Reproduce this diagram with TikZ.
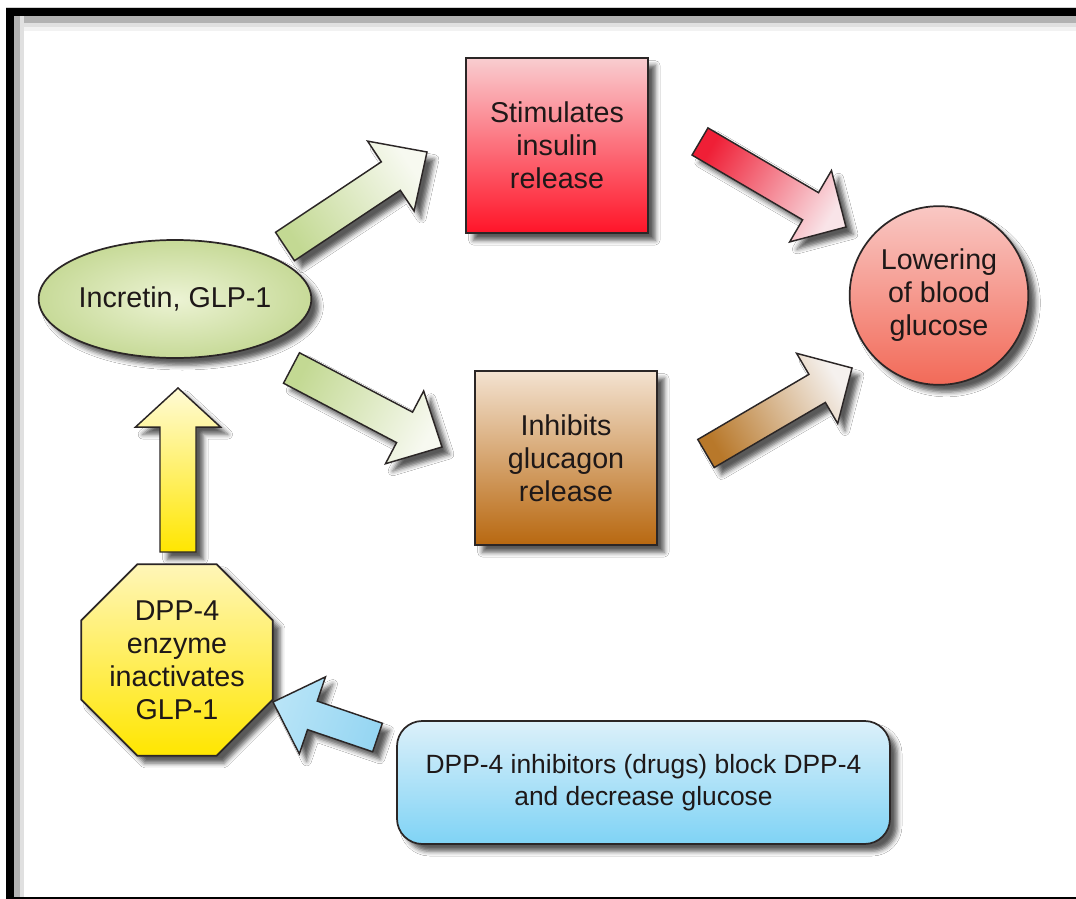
\documentclass[tikz,border=0pt]{standalone}
\usepackage{fontspec}
\setmainfont{Liberation Sans}
\usetikzlibrary{calc,shapes.geometric,shadows.blur}

\definecolor{edge}{HTML}{2B2626}
\definecolor{txt}{HTML}{1E1818}

\newcommand{\barrow}[6]{%
  \coordinate (hb) at ($(#3)!#6!(#2)$);
  \path[#1] ($(#2)!#4!90:(#3)$) -- ($(hb)!#4!90:(#3)$) -- ($(hb)!#5!90:(#3)$) -- (#3)
     -- ($(hb)!#5!-90:(#3)$) -- ($(hb)!#4!-90:(#3)$) -- ($(#2)!#4!-90:(#3)$) -- cycle;
}

\tikzset{
  shd/.style={blur shadow={shadow xshift=5.5pt,shadow yshift=-5.5pt,shadow blur radius=3.5pt,shadow opacity=65}},
  shapebox/.style={shd,draw=edge,line width=1.3pt,inner sep=0pt,align=center,text=txt,
    font=\fontsize{21.5}{24.8}\selectfont},
  arrowbody/.style={shd,draw=edge,line width=1.1pt,line join=miter},
}

\begin{document}
\begin{tikzpicture}[x=0.75pt,y=-0.75pt]
\useasboundingbox (0,0) rectangle (1076,899);
% frame
\fill[white] (0,0) rectangle (1076,899);
\fill[black!18] (6,7) rectangle (1076,8);
\fill[black!5] (24,27) rectangle (1076,31);
\fill[black!12] (14,16) rectangle (1076,27);
\fill[black!30] (14,16) rectangle (1076,23);
\fill[black!12] (14,16) rectangle (24,899);
\fill[black!30] (14,16) rectangle (20,899);
\fill[black] (6,8) rectangle (1076,16);
\fill[black] (6,8) rectangle (14,899);
\fill[black] (6,896.5) rectangle (1076,899);

% nodes
\node[shapebox,ellipse,minimum width=177pt,minimum height=88.5pt,
  inner color={rgb,255:red,236;green,243;blue,212},outer color={rgb,255:red,199;green,218;blue,152}]
  (inc) at (175,299) {Incretin, GLP-1};
\node[shapebox,rectangle,minimum width=136.5pt,minimum height=131.25pt,
  top color={rgb,255:red,249;green,205;blue,208},bottom color={rgb,255:red,255;green,20;blue,40}]
  (ins) at (557,145.5) {Stimulates\\insulin\\release};
\node[shapebox,rectangle,minimum width=136.5pt,minimum height=130.5pt,
  top color={rgb,255:red,243;green,226;blue,208},bottom color={rgb,255:red,184;green,104;blue,16}]
  (glu) at (566,458) {Inhibits\\glucagon\\release};
\node[shapebox,circle,minimum size=134pt,
  top color={rgb,255:red,249;green,200;blue,196},bottom color={rgb,255:red,242;green,106;blue,88}]
  (low) at (939,295.5) {Lowering\\of blood\\glucose};
\node[shapebox,regular polygon,regular polygon sides=8,minimum size=136.5pt,
  top color={rgb,255:red,255;green,246;blue,184},bottom color={rgb,255:red,255;green,230;blue,0}]
  (dpp) at (177,660) {DPP-4\\enzyme\\inactivates\\GLP-1};
\node[shapebox,rectangle,rounded corners=19pt,minimum width=369.75pt,minimum height=92.25pt,
  font=\fontsize{19.8}{24}\selectfont,
  top color={rgb,255:red,220;green,240;blue,250},bottom color={rgb,255:red,127;green,211;blue,245}]
  (drug) at (643.5,782.5) {DPP-4 inhibitors (drugs) block DPP-4\\and decrease glucose};

% arrow end points
\coordinate (g1t) at (285,246.5);  \coordinate (g1h) at (427,152);
\coordinate (g2t) at (291.5,368);  \coordinate (g2h) at (442,447);
\coordinate (rt)  at (700,141.5);  \coordinate (rh)  at (846,227);
\coordinate (bt)  at (706,453.5);  \coordinate (bh)  at (852,368);
\coordinate (yt)  at (178,552);    \coordinate (yh)  at (178,388);
\coordinate (ct)  at (377.5,737.5);\coordinate (ch)  at (273,702);

\barrow{arrowbody,bottom color={rgb,255:red,195;green,217;blue,147},top color={rgb,255:red,247;green,249;blue,240},shading angle=-56.4}{g1t}{g1h}{12.8pt}{31.5pt}{32.6pt}
\barrow{arrowbody,bottom color={rgb,255:red,195;green,217;blue,147},top color={rgb,255:red,247;green,249;blue,240},shading angle=-117.7}{g2t}{g2h}{12.9pt}{30.8pt}{31.7pt}
\barrow{arrowbody,bottom color={rgb,255:red,239;green,31;blue,54},top color={rgb,255:red,249;green,228;blue,232},shading angle=-120.4}{rt}{rh}{11.8pt}{31pt}{30.8pt}
\barrow{arrowbody,bottom color={rgb,255:red,184;green,120;blue,42},top color={rgb,255:red,245;green,241;blue,238},shading angle=-59.6}{bt}{bh}{12.2pt}{30.5pt}{30.3pt}
\barrow{arrowbody,bottom color={rgb,255:red,255;green,230;blue,0},top color={rgb,255:red,255;green,251;blue,214},shading angle=0}{yt}{yh}{13.5pt}{31.9pt}{29.3pt}
\barrow{arrowbody,bottom color={rgb,255:red,150;green,214;blue,242},top color={rgb,255:red,184;green,228;blue,247},shading angle=71.2}{ct}{ch}{11.3pt}{30.5pt}{31.2pt}
\end{tikzpicture}
\end{document}
